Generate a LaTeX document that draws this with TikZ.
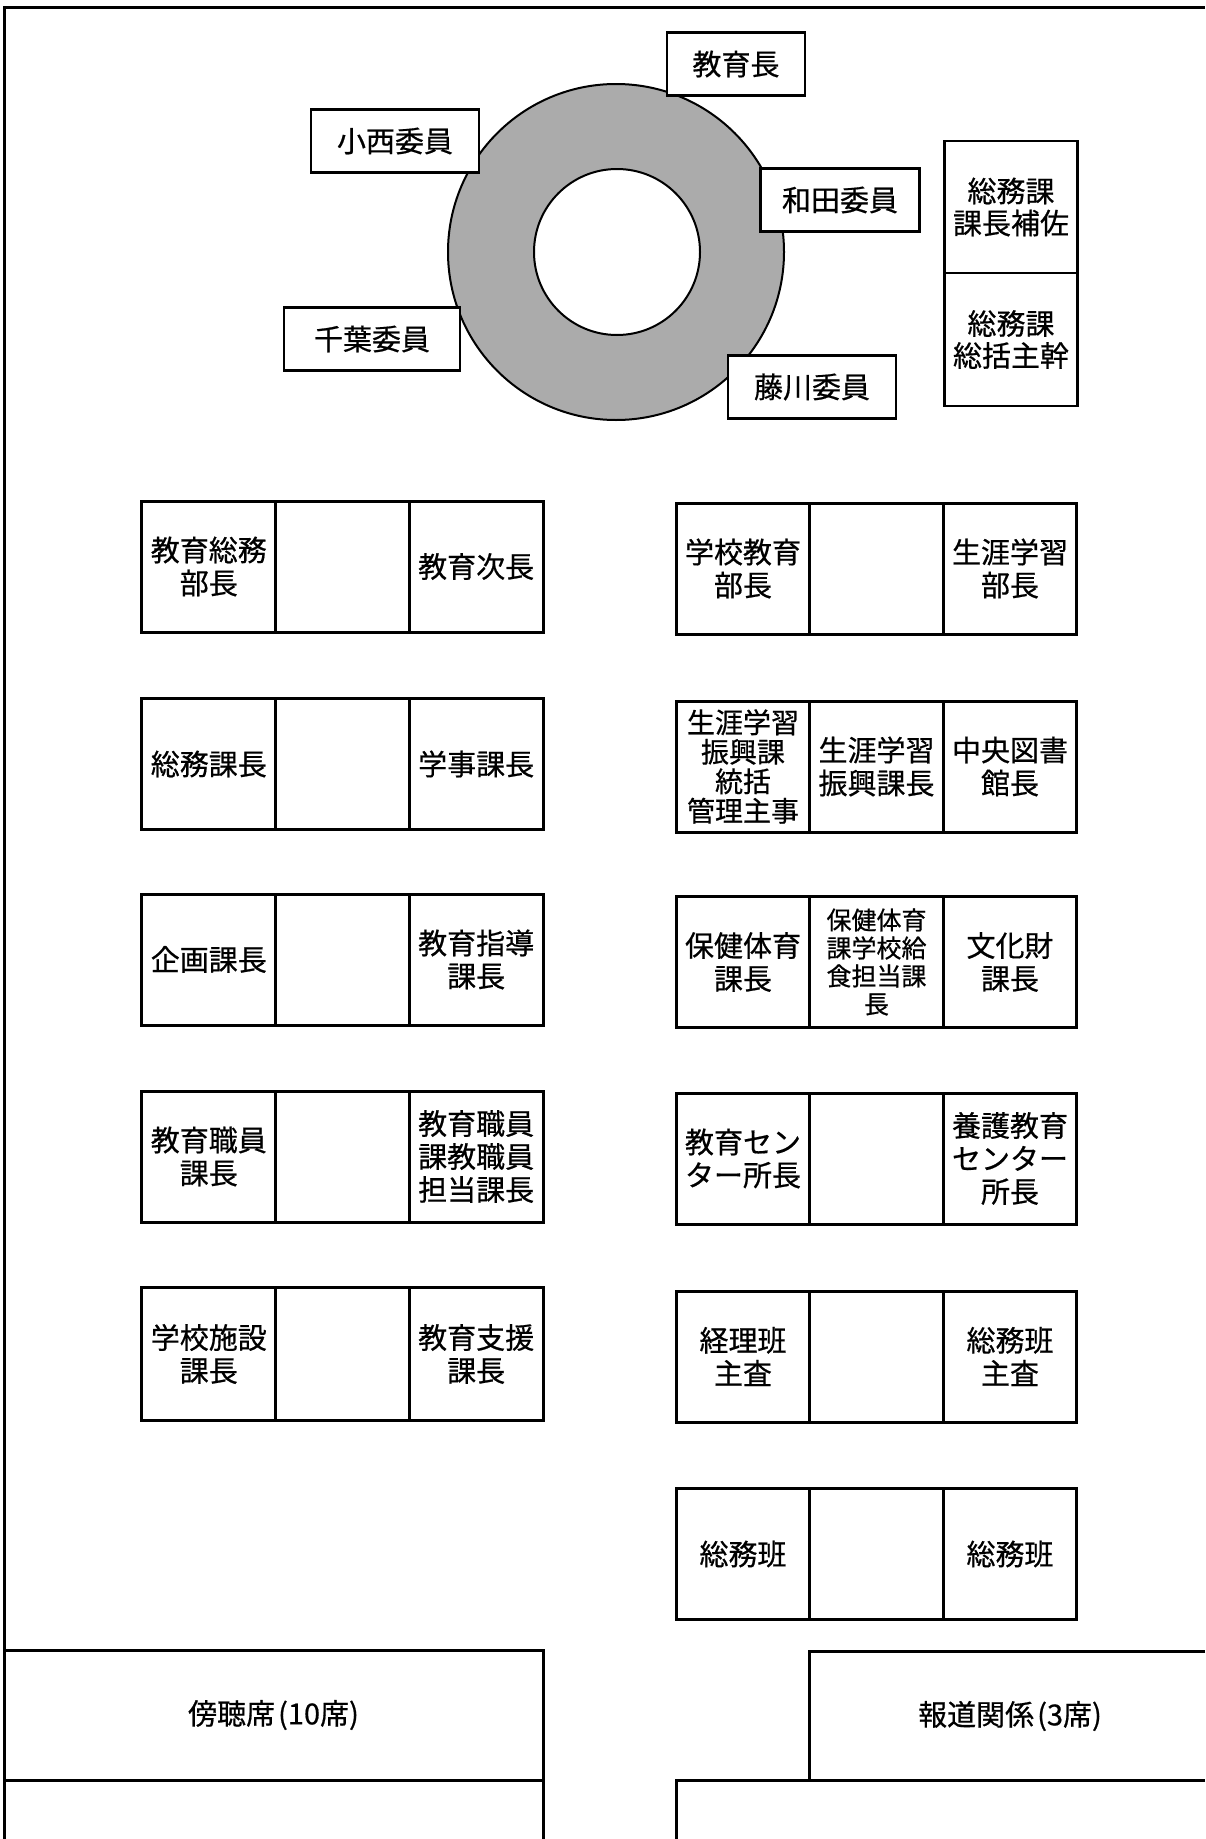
\documentclass[tikz,border=0pt]{standalone}
\usepackage{fontspec}
\newfontfamily\jpfont[BoldFont = {Noto Sans CJK JP}, BoldFeatures = {FakeBold = 0.6}]{Noto Sans CJK JP}
\usepackage{tikz}

\tikzset{
  namebox/.style = {draw, line width = 2.5pt, fill = white, inner sep = 0pt,
    minimum height = 63pt, align = center,
    font = \jpfont\bfseries\fontsize{29}{32}\selectfont},
  seat/.style = {draw, line width = 3pt, fill = white, inner sep = 0pt, outer sep = 0pt,
    minimum width = 133.7pt, minimum height = 131pt, align = center,
    font = \jpfont\bfseries\fontsize{29}{33}\selectfont},
  fourlines/.style = {font = \jpfont\bfseries\fontsize{28}{29.5}\selectfont},
  smallseat/.style = {font = \jpfont\bfseries\fontsize{25}{28}\selectfont},
  wall/.style = {line width = 3pt},
}

\begin{document}
\begin{tikzpicture}[x = 1pt, y = -1pt]

\useasboundingbox ( 0, 0 ) rectangle ( 1205, 1839 );
\fill [white] ( 0, 0 ) rectangle ( 1205, 1839 );

% Room outline
\draw [wall] ( 4, 1839 ) -- ( 4, 7 ) -- ( 1205, 7 );

% Round table
\draw [line width = 2pt, fill = black!33, even odd rule]
  ( 616, 252 ) circle ( 168pt ) ( 617, 252 ) circle ( 83pt );

% Board members
\node (kyoikucho) at ( 736, 64 ) [namebox, minimum width = 138pt] {教育長};
\node (konishi) at ( 395, 141 ) [namebox, minimum width = 168pt] {小西委員};
\node (wada) at ( 840, 200 ) [namebox, minimum width = 159pt] {和田委員};
\node (chiba) at ( 372, 339 ) [namebox, minimum width = 176pt] {千葉委員};
\node (fujikawa) at ( 812, 387 ) [namebox, minimum width = 168pt] {藤川委員};

% Secretariat
\node (hosa) at ( 1011, 207 ) [namebox, minimum width = 133pt, minimum height = 132pt] {総務課\\課長補佐};
\node (shukan) at ( 1011, 339.5 ) [namebox, minimum width = 133pt, minimum height = 133pt] {総務課\\総括主幹};

% Left row of desks
\node (L1a) at ( 208.8, 566.5 ) [seat] {教育総務\\部長};
\node (L1b) at ( 342.5, 566.5 ) [seat] {};
\node (L1c) at ( 476.2, 566.5 ) [seat] {教育次長};

\node (L2a) at ( 208.8, 764 ) [seat] {総務課長};
\node (L2b) at ( 342.5, 764 ) [seat] {};
\node (L2c) at ( 476.2, 764 ) [seat] {学事課長};

\node (L3a) at ( 208.8, 959.5 ) [seat] {企画課長};
\node (L3b) at ( 342.5, 959.5 ) [seat] {};
\node (L3c) at ( 476.2, 959.5 ) [seat] {教育指導\\課長};

\node (L4a) at ( 208.8, 1156.5 ) [seat] {教育職員\\課長};
\node (L4b) at ( 342.5, 1156.5 ) [seat] {};
\node (L4c) at ( 476.2, 1156.5 ) [seat] {教育職員\\課教職員\\担当課長};

\node (L5a) at ( 208.8, 1354 ) [seat, minimum height = 133pt] {学校施設\\課長};
\node (L5b) at ( 342.5, 1354 ) [seat, minimum height = 133pt] {};
\node (L5c) at ( 476.2, 1354 ) [seat, minimum height = 133pt] {教育支援\\課長};

% Right row of desks
\node (R1a) at ( 743, 568.5 ) [seat] {学校教育\\部長};
\node (R1b) at ( 876.5, 568.5 ) [seat] {};
\node (R1c) at ( 1010, 568.5 ) [seat] {生涯学習\\部長};

\node (R2a) at ( 743, 766.5 ) [seat, fourlines] {生涯学習\\振興課\\統括\\管理主事};
\node (R2b) at ( 876.5, 766.5 ) [seat] {生涯学習\\振興課長};
\node (R2c) at ( 1010, 766.5 ) [seat] {中央図書\\館長};

\node (R3a) at ( 743, 962 ) [seat] {保健体育\\課長};
\node (R3b) at ( 876.5, 962 ) [seat, smallseat] {保健体育\\課学校給\\食担当課\\長};
\node (R3c) at ( 1010, 962 ) [seat] {文化財\\課長};

\node (R4a) at ( 743, 1158.5 ) [seat] {教育セン\\ター所長};
\node (R4b) at ( 876.5, 1158.5 ) [seat] {};
\node (R4c) at ( 1010, 1158.5 ) [seat] {養護教育\\センター\\所長};

\node (R5a) at ( 743, 1356.5 ) [seat] {経理班\\主査};
\node (R5b) at ( 876.5, 1356.5 ) [seat] {};
\node (R5c) at ( 1010, 1356.5 ) [seat] {総務班\\主査};

\node (R6a) at ( 743, 1554 ) [seat] {総務班};
\node (R6b) at ( 876.5, 1554 ) [seat] {};
\node (R6c) at ( 1010, 1554 ) [seat] {総務班};

% Public and press seats
\node (bocho) at ( 273.5, 1715 ) [seat, minimum width = 539pt, minimum height = 130pt] {傍聴席\kern3pt(10席)};
\coordinate (bochoEnd) at ( 543, 1839 );
\draw [wall] (bocho.south east) -- (bochoEnd);

\draw [wall] ( 1205, 1651 ) -- ( 809, 1651 ) -- ( 809, 1780 ) -- ( 1205, 1780 );
\node (hodo) at ( 1010, 1716 ) [font = \jpfont\bfseries\fontsize{29}{33}\selectfont] {報道関係\kern3pt(3席)};
\draw [wall] ( 1205, 1780 ) -- ( 676, 1780 ) -- ( 676, 1839 );

\end{tikzpicture}
\end{document}
